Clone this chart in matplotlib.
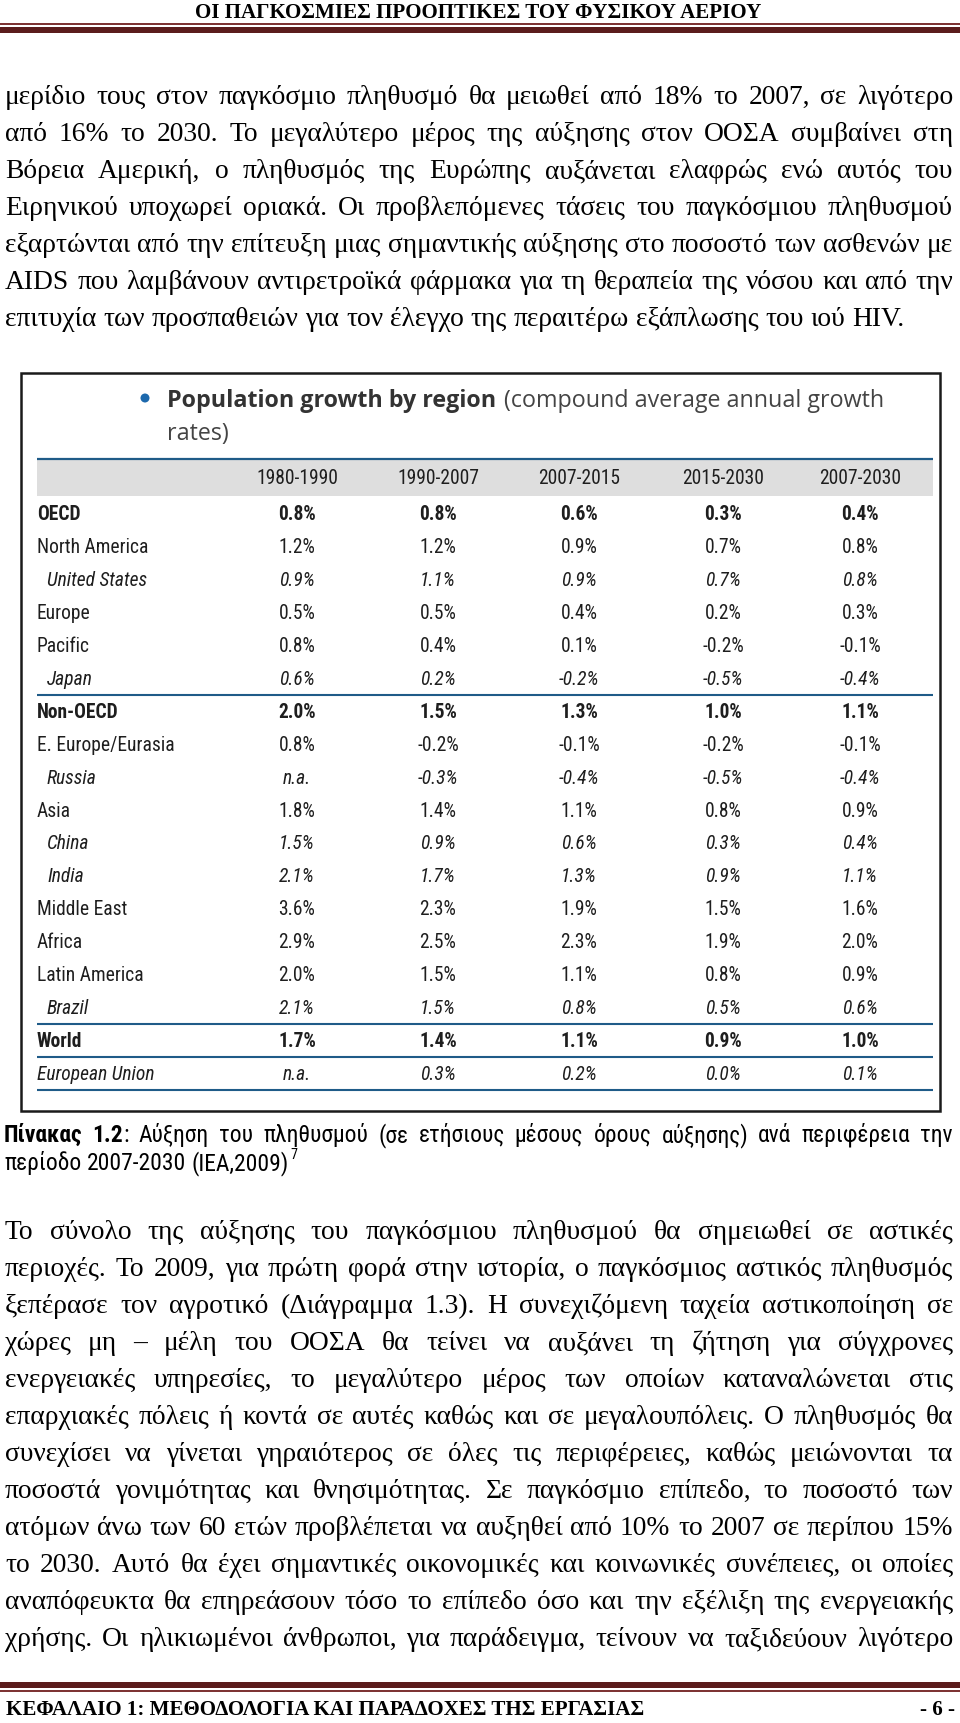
import matplotlib
matplotlib.use("Agg")
import matplotlib.pyplot as plt
from matplotlib.patches import Rectangle, Circle
from matplotlib import font_manager

# ---------------- data ----------------
header_title = "ΟΙ ΠΑΓΚΟΣΜΙΕΣ ΠΡΟΟΠΤΙΚΕΣ ΤΟΥ ΦΥΣΙΚΟΥ ΑΕΡΙΟΥ"
footer_title = "ΚΕΦΑΛΑΙΟ 1: ΜΕΘΟΔΟΛΟΓΙΑ ΚΑΙ ΠΑΡΑΔΟΧΕΣ ΤΗΣ ΕΡΓΑΣΙΑΣ"
page_number = "- 6 -"

paragraph_top = [
    "μερίδιο τους στον παγκόσμιο πληθυσμό θα μειωθεί από 18% το 2007, σε λιγότερο",
    "από 16% το 2030. Το μεγαλύτερο μέρος της αύξησης στον ΟΟΣΑ συμβαίνει στη",
    "Βόρεια Αμερική, ο πληθυσμός της Ευρώπης αυξάνεται ελαφρώς ενώ αυτός του",
    "Ειρηνικού υποχωρεί οριακά. Οι προβλεπόμενες τάσεις του παγκόσμιου πληθυσμού",
    "εξαρτώνται από την επίτευξη μιας σημαντικής αύξησης στο ποσοστό των ασθενών με",
    "AIDS που λαμβάνουν αντιρετροϊκά φάρμακα για τη θεραπεία της νόσου και από την",
    "επιτυχία των προσπαθειών για τον έλεγχο της περαιτέρω εξάπλωσης του ιού HIV.",
]
paragraph_bottom = [
    "Το σύνολο της αύξησης του παγκόσμιου πληθυσμού θα σημειωθεί σε αστικές",
    "περιοχές. Το 2009, για πρώτη φορά στην ιστορία, ο παγκόσμιος αστικός πληθυσμός",
    "ξεπέρασε τον αγροτικό (Διάγραμμα 1.3). Η συνεχιζόμενη ταχεία αστικοποίηση σε",
    "χώρες μη – μέλη του ΟΟΣΑ θα τείνει να αυξάνει τη ζήτηση για σύγχρονες",
    "ενεργειακές υπηρεσίες, το μεγαλύτερο μέρος των οποίων καταναλώνεται στις",
    "επαρχιακές πόλεις ή κοντά σε αυτές καθώς και σε μεγαλουπόλεις. Ο πληθυσμός θα",
    "συνεχίσει να γίνεται γηραιότερος σε όλες τις περιφέρειες, καθώς μειώνονται τα",
    "ποσοστά γονιμότητας και θνησιμότητας. Σε παγκόσμιο επίπεδο, το ποσοστό των",
    "ατόμων άνω των 60 ετών προβλέπεται να αυξηθεί από 10% το 2007 σε περίπου 15%",
    "το 2030. Αυτό θα έχει σημαντικές οικονομικές και κοινωνικές συνέπειες, οι οποίες",
    "αναπόφευκτα θα επηρεάσουν τόσο το επίπεδο όσο και την εξέλιξη της ενεργειακής",
    "χρήσης. Οι ηλικιωμένοι άνθρωποι, για παράδειγμα, τείνουν να ταξιδεύουν λιγότερο",
]

caption_label = "Πίνακας 1.2"
caption_line1 = "Αύξηση του πληθυσμού (σε ετήσιους μέσους όρους αύξησης) ανά περιφέρεια την"
caption_line2 = "περίοδο 2007-2030 (IEA,2009)"
caption_note = "7"

table_title_bold = "Population growth by region"
table_title_rest = "(compound average annual growth"
table_title_line2 = "rates)"

periods = ["1980-1990", "1990-2007", "2007-2015", "2015-2030", "2007-2030"]
regions = ["OECD", "North America", "United States", "Europe", "Pacific", "Japan",
           "Non-OECD", "E. Europe/Eurasia", "Russia", "Asia", "China", "India",
           "Middle East", "Africa", "Latin America", "Brazil", "World", "European Union"]
g_1980_1990 = [0.8, 1.2, 0.9, 0.5, 0.8, 0.6, 2.0, 0.8, None, 1.8, 1.5, 2.1, 3.6, 2.9, 2.0, 2.1, 1.7, None]
g_1990_2007 = [0.8, 1.2, 1.1, 0.5, 0.4, 0.2, 1.5, -0.2, -0.3, 1.4, 0.9, 1.7, 2.3, 2.5, 1.5, 1.5, 1.4, 0.3]
g_2007_2015 = [0.6, 0.9, 0.9, 0.4, 0.1, -0.2, 1.3, -0.1, -0.4, 1.1, 0.6, 1.3, 1.9, 2.3, 1.1, 0.8, 1.1, 0.2]
g_2015_2030 = [0.3, 0.7, 0.7, 0.2, -0.2, -0.5, 1.0, -0.2, -0.5, 0.8, 0.3, 0.9, 1.5, 1.9, 0.8, 0.5, 0.9, 0.0]
g_2007_2030 = [0.4, 0.8, 0.8, 0.3, -0.1, -0.4, 1.1, -0.1, -0.4, 0.9, 0.4, 1.1, 1.6, 2.0, 0.9, 0.6, 1.0, 0.1]

bold_rows = {"OECD", "Non-OECD", "World"}
indented_rows = {"United States", "Japan", "Russia", "China", "India", "Brazil"}
italic_rows = indented_rows | {"European Union"}
rule_after = {"Japan", "Brazil", "World", "European Union"}

# ---------------- page setup ----------------
W, H = 960, 1724
fig = plt.figure(figsize=(W / 100, H / 100), dpi=100)
ax = fig.add_axes([0, 0, 1, 1])
ax.set_xlim(0, W)
ax.set_ylim(H, 0)
ax.axis("off")
renderer = fig.canvas.get_renderer()

entries = font_manager.fontManager.ttflist
names = {f.name for f in entries}


def pick_font(named, fams, stretches, default):
    for n in named:
        if n in names:
            return n, "normal"
    for fam in fams:
        for st in stretches:
            for f in entries:
                if f.name == fam and f.stretch == st and f.style == "normal":
                    return fam, st
    return default, "normal"


NARROW_NAME, NARROW_ST = pick_font(
    ["Liberation Sans Narrow", "Roboto Condensed", "Open Sans Condensed",
     "Noto Sans Condensed", "DejaVu Sans Condensed", "Arimo Narrow"],
    ["Noto Sans", "Open Sans", "DejaVu Sans", "Roboto"],
    ["condensed", "semi-condensed"], "Roboto")

SERIF = ["Liberation Serif", "DejaVu Serif"]
SANS = ["Open Sans", "DejaVu Sans"]
NARROW = dict(family=[NARROW_NAME, "DejaVu Sans"], fontstretch=NARROW_ST)


def tw(s, **kw):
    t = ax.text(0, 0, s, **kw)
    w = t.get_window_extent(renderer=renderer).width
    t.remove()
    return w


def fit(s, target, **kw):
    return 20.0 * target / tw(s, fontsize=20, **kw)


def draw_tokens(tokens, x0, x1, y, justify, space):
    widths = [sum(tw(txt, **kw) for txt, kw in tok) for tok in tokens]
    if justify and len(tokens) > 1:
        gap = (x1 - x0 - sum(widths)) / (len(tokens) - 1)
    else:
        gap = space
    x = x0
    for tok, w in zip(tokens, widths):
        xx = x
        for txt, kw in tok:
            ax.text(xx, y, txt, ha="left", va="baseline", **kw)
            xx += tw(txt, **kw)
        x += w + gap
    return x - gap


RULE_DARK = "#5b1c1c"
RULE_LIGHT = "#7e3434"

# ---------------- header ----------------
fs_head = fit(header_title, 563, family=SERIF, weight="bold")
ax.text(478, 18, header_title, ha="center", va="baseline", fontsize=fs_head,
        family=SERIF, weight="bold", color="black")
ax.add_patch(Rectangle((0, 24), W, 2, color=RULE_LIGHT, lw=0))
ax.add_patch(Rectangle((0, 28), W, 6, color=RULE_DARK, lw=0))

# ---------------- body text ----------------
X0, X1 = 5, 953
body_kw = dict(family=SERIF, color="black")
fs_body = min(fit(l, 947, **body_kw) for l in paragraph_top[:-1] + paragraph_bottom)
body_kw["fontsize"] = fs_body
space_body = tw("a b", **body_kw) - tw("ab", **body_kw)
STEP = 37.0


def draw_paragraph(lines, first_baseline, last_justified):
    for i, line in enumerate(lines):
        toks = [[(w, body_kw)] for w in line.split(" ")]
        just = (i < len(lines) - 1) or last_justified
        draw_tokens(toks, X0, X1, first_baseline + i * STEP, just, space_body)


draw_paragraph(paragraph_top, 104, False)
draw_paragraph(paragraph_bottom, 1239, True)

# ---------------- table ----------------
BOX_L, BOX_R, BOX_T, BOX_B = 21, 940, 374, 1112
ax.add_patch(Rectangle((BOX_L, BOX_T), BOX_R - BOX_L, BOX_B - BOX_T, fill=False,
                       ec="#1a1a1a", lw=1.8))

TL, TR = 37, 933
BLUE = "#1f5b88"
TXT = "#1e1e1e"

fs_title = fit(table_title_bold, 329, family=SANS, weight="bold")
ax.add_patch(Circle((145, 399), 4.5, color="#1d69ad", lw=0))
ax.text(167, 407, table_title_bold, ha="left", va="baseline", fontsize=fs_title,
        family=SANS, weight="bold", color="#333333")
ax.text(504, 407, table_title_rest, ha="left", va="baseline", fontsize=fs_title,
        family=SANS, color="#444444")
ax.text(167, 440, table_title_line2, ha="left", va="baseline", fontsize=fs_title,
        family=SANS, color="#444444")

fs_tab = fit("E. Europe/Eurasia", 137, **NARROW)
col_x = [297, 438, 579, 723, 860]
ax.add_patch(Rectangle((TL, 460), TR - TL, 37, color="#dedede", lw=0))
ax.plot([TL, TR], [460, 460], color=BLUE, lw=1.6, solid_capstyle="butt")
for cx, p in zip(col_x, periods):
    ax.text(cx, 479, p, ha="center", va="center", fontsize=fs_tab, color=TXT, **NARROW)

series = [g_1980_1990, g_1990_2007, g_2007_2015, g_2015_2030, g_2007_2030]
ROW0, ROWSTEP = 515, 32.9


def fmt(v):
    return "n.a." if v is None else f"{v:.1f}%"


for i, reg in enumerate(regions):
    y = ROW0 + i * ROWSTEP
    kw = dict(fontsize=fs_tab, color=TXT,
              weight="bold" if reg in bold_rows else "normal",
              style="italic" if reg in italic_rows else "normal", **NARROW)
    lx = TL + (10 if reg in indented_rows else 0)
    ax.text(lx, y, reg, ha="left", va="center", **kw)
    for cx, s in zip(col_x, series):
        ax.text(cx, y, fmt(s[i]), ha="center", va="center", **kw)
    if reg in rule_after:
        yl = y + ROWSTEP / 2
        ax.plot([TL, TR], [yl, yl], color=BLUE, lw=1.5, solid_capstyle="butt")

# ---------------- caption ----------------
cap_kw = dict(color="black", **NARROW)
fs_cap = fit(caption_line2, 284, **cap_kw)
cap_kw["fontsize"] = fs_cap
cap_bold = dict(cap_kw, weight="bold")
space_cap = tw("a b", **cap_kw) - tw("ab", **cap_kw)
label_words = caption_label.split(" ")
tokens = [[(label_words[0], cap_bold)], [(label_words[1], cap_bold), (":", cap_kw)]]
tokens += [[(w, cap_kw)] for w in caption_line1.split(" ")]
draw_tokens(tokens, 4, X1, 1142, True, space_cap)
xe = draw_tokens([[(w, cap_kw)] for w in caption_line2.split(" ")], 4, X1, 1170,
                 False, space_cap)
ax.text(xe + 2, 1159, caption_note, ha="left", va="baseline", fontsize=fs_cap * 0.6,
        color="black", **NARROW)

# ---------------- footer ----------------
ax.add_patch(Rectangle((0, 1683), W, 6, color=RULE_DARK, lw=0))
ax.add_patch(Rectangle((0, 1691), W, 2, color=RULE_LIGHT, lw=0))
ax.text(6, 1715, footer_title, ha="left", va="baseline", fontsize=fs_head,
        family=SERIF, weight="bold", color="black")
ax.text(955, 1715, page_number, ha="right", va="baseline", fontsize=fs_head,
        family=SERIF, weight="bold", color="black")

fig.savefig("out.png", dpi=100, facecolor="white")
